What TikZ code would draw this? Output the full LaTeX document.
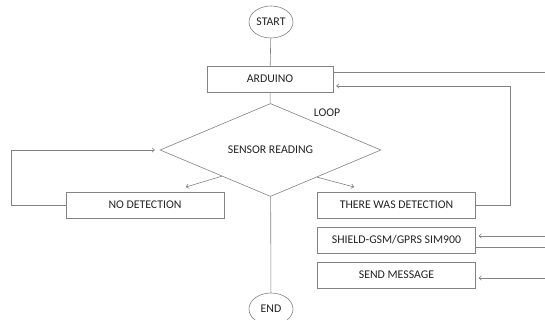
\documentclass[tikz,border=0pt]{standalone}
\usepackage{fontspec}
\setmainfont{Carlito}
\usetikzlibrary{shapes.geometric,arrows.meta,calc}
\definecolor{linegray}{RGB}{130,130,130}
\definecolor{textgray}{RGB}{35,35,35}

\begin{document}
\begin{tikzpicture}[x=1pt, y=-1pt, line width=0.6pt]
    \tikzstyle{label}=[text=textgray, font=\fontsize{11.8}{13}\selectfont]
    \tikzstyle{terminal}=[label, ellipse, draw=linegray, minimum width=44pt, minimum height=32pt, inner sep=0pt]
    \tikzstyle{block}=[label, rectangle, draw=linegray, minimum width=158pt, minimum height=26pt, inner sep=0pt]
    \tikzstyle{decision}=[label, diamond, draw=linegray, minimum width=221pt, minimum height=60pt, inner sep=0pt]
    \tikzstyle{flow}=[draw=linegray, -{To[length=3pt,width=5pt]}]
    \tikzstyle{link}=[draw=linegray]

    \useasboundingbox (0,0) rectangle (545,320);

    \node[terminal] (start) at (271,22) {START};
    \node[block, minimum width=126pt] (arduino) at (270,79) {ARDUINO};
    \node[decision] (sensor) at (270.5,150) {SENSOR READING};
    \node[label] (loop) at (327,113) {LOOP};
    \node[terminal] (end) at (271,309) {END};

    \foreach \name/\x/\y/\txt in {nodet/145/205/NO DETECTION, yesdet/396.5/205/THERE WAS DETECTION, shield/396.5/240/{SHIELD-GSM/GPRS SIM900}, send/396.5/275/SEND MESSAGE}
    \node[block] (\name) at (\x,\y) {\txt};

    % free ends at the page edge
    \coordinate (noarrow) at (186,187);
    \coordinate (yesarrow) at (354,187);
    \coordinate (outtop) at (545,72);
    \coordinate (inshield) at (545,236);
    \coordinate (outshield) at (545,247);
    \coordinate (insend) at (545,278);

    \draw[link] (start) -- (arduino);
    \draw[link] (arduino) -- (sensor);
    \draw[link] (sensor) -- (end);
    \draw[flow] ($(sensor.west)!0.56!(sensor.south)$) -- (noarrow);
    \draw[flow] ($(sensor.east)!0.58!(sensor.south)$) -- (yesarrow);

    % loops back
    \draw[flow] (nodet.west) -- ++(-54,0) |- ([xshift=-5pt]sensor.west);
    \draw[flow] (yesdet.east) -- ++(34,0) |- ([xshift=3pt,yshift=-7pt]arduino.east);
    \draw[link] ([yshift=7pt]arduino.east) -- (outtop);

    % gsm shield
    \draw[flow] (inshield) -- ([xshift=3pt]inshield -| shield.east);
    \draw[link] (outshield -| shield.east) -- (outshield);
    \draw[flow] (insend) -- ([xshift=3pt]insend -| send.east);
\end{tikzpicture}
\end{document}
